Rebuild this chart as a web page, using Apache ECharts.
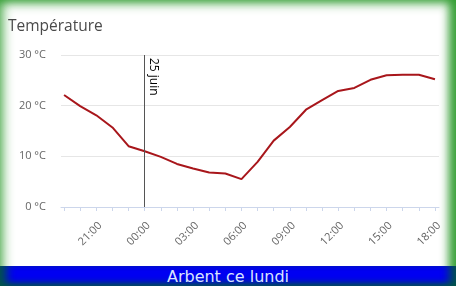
<!DOCTYPE html>
<html><head><meta charset="utf-8">
<script src="https://cdn.jsdelivr.net/npm/echarts@6/dist/echarts.min.js"></script>
<style>
html,body{margin:0;padding:0;background:#fff;}
#frame{position:relative;width:456px;height:286px;overflow:hidden;background:#fff;
  box-shadow:inset 0 0 12px 2px rgba(45,155,45,0.95), inset -8px 0 10px -1px rgba(45,155,45,0.8);}
#chart{position:absolute;left:0;top:0;width:456px;height:286px;}
#bar{position:absolute;left:0;top:266px;width:456px;height:20px;background:#0000f2;color:#d9e4ff;
  font:16px "DejaVu Sans",sans-serif;text-align:center;line-height:21px;
  box-shadow:inset 0 -5px 6px -2px rgba(0,85,70,0.95), inset 12px 0 9px -5px rgba(0,85,70,0.9), inset -12px 0 9px -5px rgba(0,85,70,0.9);}
</style></head><body>
<div id="frame"><div id="chart"></div><div id="bar">Arbent ce lundi</div></div>
<script>
const titleText = 'Température';
const hours = ['19:00','20:00','21:00','22:00','23:00','00:00','01:00','02:00','03:00','04:00','05:00','06:00',
               '07:00','08:00','09:00','10:00','11:00','12:00','13:00','14:00','15:00','16:00','17:00','18:00'];
const temps = [22.1, 19.9, 18.1, 15.7, 12.0, 11.0, 9.9, 8.5, 7.6, 6.8, 6.6, 5.5,
               8.9, 13.1, 15.8, 19.2, 21.1, 22.9, 23.5, 25.1, 26.0, 26.1, 26.1, 25.2];
const labelHours = ['21:00','00:00','03:00','06:00','09:00','12:00','15:00','18:00'];
const yMin = 0, yMax = 30, yStep = 10;
const markerHour = '00:00';
const markerLabel = '25 juin';

const chart = echarts.init(document.getElementById('chart'), null, {renderer:'canvas'});
const font = '"Open Sans", sans-serif';
const mx = hours.indexOf(markerHour);
chart.setOption({
  animation: false,
  backgroundColor: 'transparent',
  title: { text: titleText, left: 3, top: 14,
    textStyle: { fontFamily: font, fontSize: 15.5, fontWeight: 'normal', color: '#4a4a4a' } },
  grid: { left: 61, right: 17, top: 55, bottom: 79 },
  xAxis: {
    type: 'value', min: -0.19, max: 23.25,
    axisLine: { lineStyle: { color: '#ccd6eb' } },
    axisTick: { customValues: hours.map((h, i) => i), length: 4, lineStyle: { color: '#ccd6eb' } },
    axisLabel: { customValues: labelHours.map(h => hours.indexOf(h)), formatter: v => hours[v],
      rotate: 45, margin: 13, verticalAlign: 'top', color: '#666', fontSize: 11, fontFamily: font },
    splitLine: { show: false }
  },
  yAxis: {
    type: 'value', min: yMin, max: yMax, interval: yStep,
    axisLine: { show: false }, axisTick: { show: false },
    axisLabel: { formatter: '{value} °C', color: '#666', fontSize: 11, fontFamily: font, margin: 15 },
    splitLine: { lineStyle: { color: '#e6e6e6' } }
  },
  series: [{
    type: 'line', data: temps.map((t, i) => [i, t]),
    showSymbol: false, symbol: 'none',
    lineStyle: { color: '#a8161b', width: 2 }, itemStyle: { color: '#a8161b' },
    markLine: {
      silent: true, symbol: 'none', animation: false,
      lineStyle: { color: '#555', width: 1, type: 'solid' },
      label: { show: true, position: 'insideStartTop', formatter: markerLabel, color: '#000',
        fontSize: 12, fontFamily: font, distance: 3 },
      data: [[{ coord: [mx, yMax] }, { coord: [mx, yMin] }]]
    }
  }]
});
</script>
</body></html>
